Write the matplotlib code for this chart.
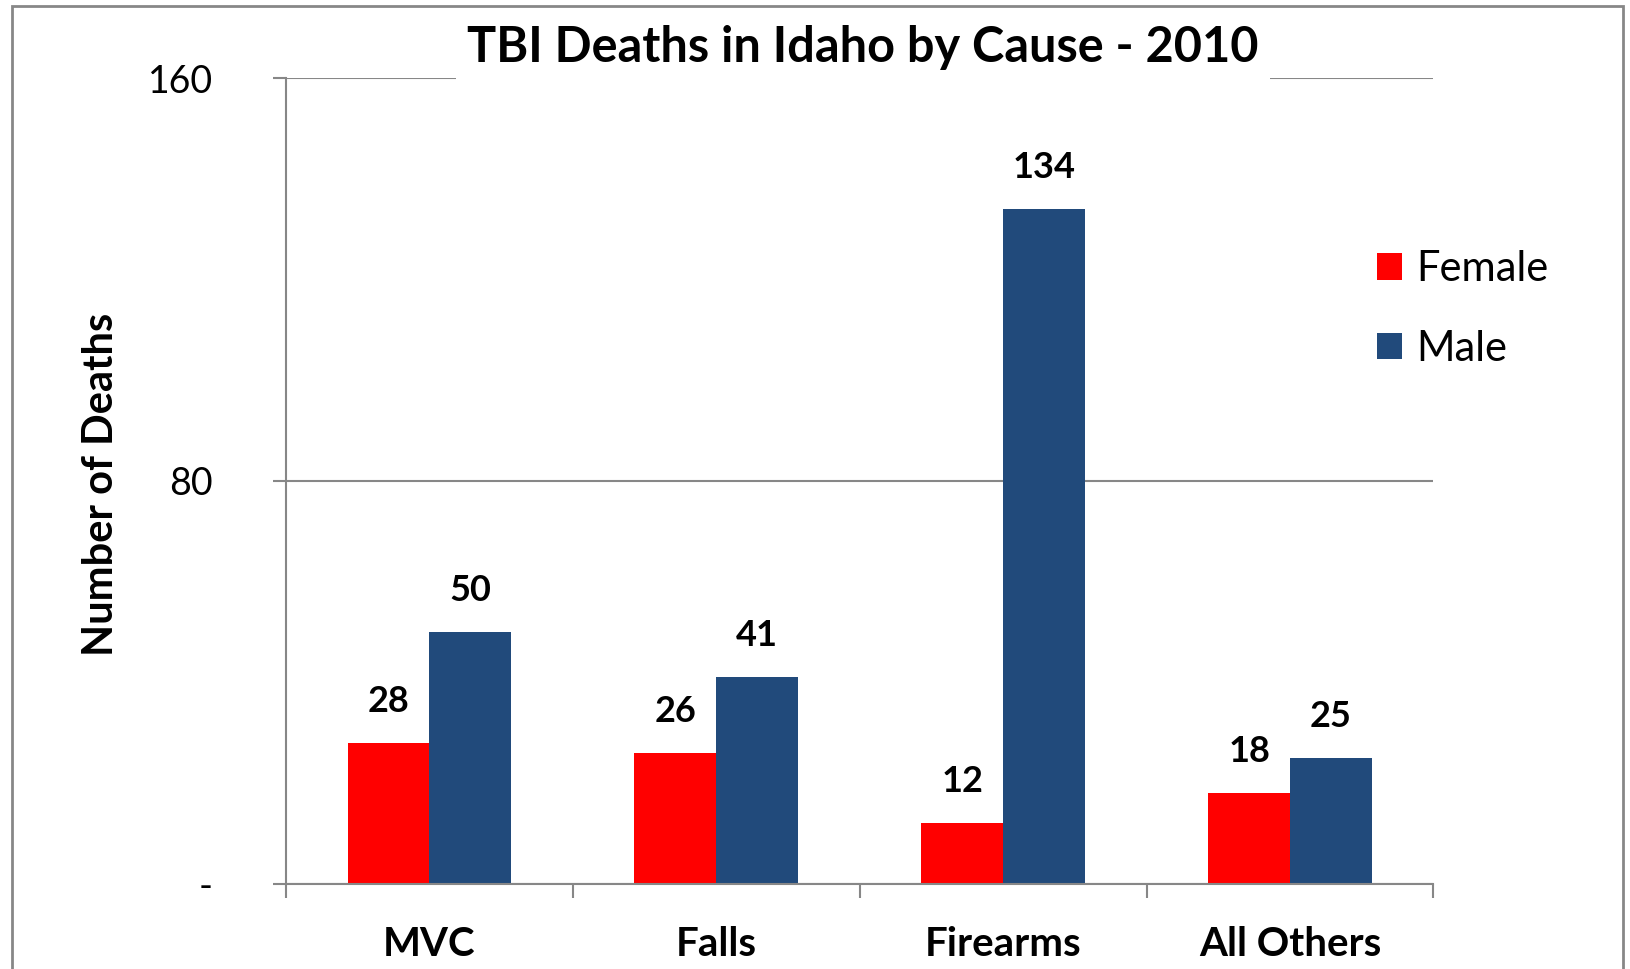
import numpy as np
import matplotlib
matplotlib.use("Agg")
import matplotlib.pyplot as plt
from matplotlib.patches import Rectangle

causes = ["MVC", "Falls", "Firearms", "All Others"]
female = [28, 26, 12, 18]
male = [50, 41, 134, 25]
y_ticks = [0, 80, 160]
y_tick_labels = ["-", "80", "160"]

plt.rcParams['font.family'] = ['Lato', 'DejaVu Sans']
grey = "#878787"

fig = plt.figure(figsize=(16.31, 9.69), dpi=100)
ax = fig.add_axes([0.1753, 0.0878, 0.7036, 0.8317])

x = np.arange(len(causes))
w = 0.285
b1 = ax.bar(x - w / 2, female, w, color="#ff0000", label="Female")
b2 = ax.bar(x + w / 2, male, w, color="#214a7b", label="Male")

# value labels above bars
for bars, vals in [(b1, female), (b2, male)]:
    for rect, v in zip(bars, vals):
        ax.annotate(str(v), (rect.get_x() + rect.get_width() / 2, v),
                    xytext=(0, 30), textcoords="offset points",
                    ha="center", va="center", fontsize=26, fontweight="bold")

ax.set_xlim(-0.5, len(causes) - 0.5)
ax.set_ylim(0, 160)
ax.set_yticks(y_ticks)
ax.set_yticklabels(y_tick_labels, fontsize=27)
ax.set_xticks(x)
ax.set_xticklabels(causes, fontsize=29, fontweight="bold")
ax.set_xticks(np.arange(len(causes) + 1) - 0.5, minor=True)
ax.tick_params(axis="x", which="major", length=0, pad=30)
ax.tick_params(axis="x", which="minor", length=10, width=1.5, color=grey)
ax.tick_params(axis="y", length=9.5, width=1.5, color=grey, pad=43)
ax.yaxis.grid(True, color=grey, linewidth=1.5)
ax.set_axisbelow(True)
for s in ["top", "right"]:
    ax.spines[s].set_visible(False)
for s in ["left", "bottom"]:
    ax.spines[s].set_color(grey)
    ax.spines[s].set_linewidth(1.5)
ax.spines["bottom"].set_zorder(3)

ax.set_ylabel("Number of Deaths", fontsize=30, fontweight="bold", labelpad=0)
ax.yaxis.set_label_coords(120 / 1631, 0.5, transform=fig.transFigure)

fig.text(863 / 1631, 1 - 48 / 969, "TBI Deaths in Idaho by Cause - 2010",
         ha="center", va="center", fontsize=35, fontweight="bold",
         bbox=dict(facecolor="white", edgecolor="none", pad=8))

ax.legend(loc="upper left", bbox_to_anchor=(1377 / 1631, 1 - 250 / 969),
          bbox_transform=fig.transFigure, frameon=False, fontsize=30,
          handlelength=0.6, handleheight=0.6, handletextpad=0.35,
          labelspacing=1.0, borderpad=0, borderaxespad=0)

# outer chart border
fig.patches.append(Rectangle((12 / 1631, -0.05), 1611 / 1631, 1.05 - 6 / 969,
                             transform=fig.transFigure, fill=False,
                             edgecolor=grey, linewidth=2))

fig.savefig("out.png", dpi=100)
